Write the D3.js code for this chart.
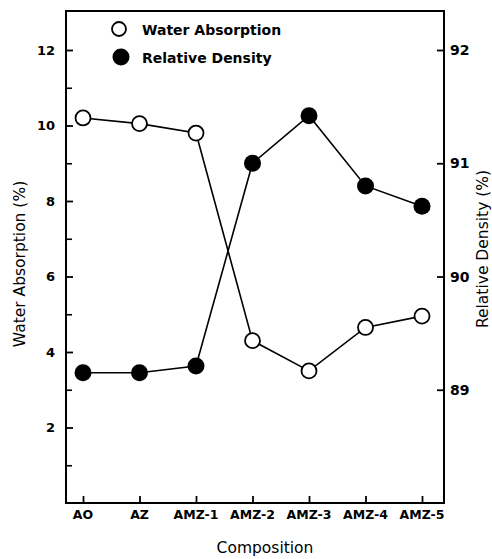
<!DOCTYPE html>
<html>
<head>
<meta charset="utf-8">
<script src="https://cdn.jsdelivr.net/npm/d3@7"></script>
<style>
  html, body { margin: 0; padding: 0; background: #fff; }
  svg { display: block; }
  text { font-family: "DejaVu Sans", sans-serif; fill: #000; }
</style>
</head>
<body>
<svg id="chart" width="492" height="559"></svg>
<script>
// Compositions along the x axis
const categories = ["AO", "AZ", "AMZ-1", "AMZ-2", "AMZ-3", "AMZ-4", "AMZ-5"];
// Water absorption (%), left axis
const waterAbsorption = [10.2, 10.05, 9.8, 4.3, 3.5, 4.65, 4.95];
// Relative density (%), right axis
const relativeDensity = [89.15, 89.15, 89.21, 91.0, 91.42, 90.8, 90.62];
// Axis tick values
const leftMajorTicks = [2, 4, 6, 8, 10, 12];
const leftMinorTicks = [1, 3, 5, 7, 9, 11];
const rightTicks = [89, 90, 91, 92];
const legendLabels = ["Water Absorption", "Relative Density"];

const svg = d3.select("#chart");

const frame = { left: 66, right: 444, top: 11, bottom: 503 };

const x = d3.scalePoint()
  .domain(categories)
  .range([83, 422]);

const yLeft = d3.scaleLinear()
  .domain([0, 12])
  .range([frame.bottom, 50]);

const yRight = d3.scaleLinear()
  .domain([88, 92])
  .range([frame.bottom, 50]);

// Frame: left, right, bottom axes and top border
const g = svg.append("g");
g.append("path")
  .attr("d", `M${frame.left},${frame.top}H${frame.right}V${frame.bottom}H${frame.left}Z`)
  .attr("fill", "none")
  .attr("stroke", "#000")
  .attr("stroke-width", 2);

// Left axis (ticks pointing inward)
const leftAxis = d3.axisRight(yLeft)
  .tickValues(leftMajorTicks)
  .tickSize(7)
  .tickFormat("");
const la = g.append("g")
  .attr("transform", `translate(${frame.left},0)`)
  .call(leftAxis);
la.select(".domain").remove();
la.selectAll("line").attr("stroke-width", 1.8);

const leftMinor = d3.axisRight(yLeft)
  .tickValues(leftMinorTicks)
  .tickSize(6)
  .tickFormat("");
const lm = g.append("g")
  .attr("transform", `translate(${frame.left},0)`)
  .call(leftMinor);
lm.select(".domain").remove();
lm.selectAll("line").attr("stroke-width", 1.6);

g.append("g").selectAll("text")
  .data(leftMajorTicks)
  .join("text")
  .attr("x", 55)
  .attr("y", d => yLeft(d))
  .attr("dy", "0.36em")
  .attr("text-anchor", "end")
  .attr("font-size", 13)
  .attr("font-weight", "bold")
  .text(d => d);

// Right axis (ticks pointing inward)
const rightAxis = d3.axisLeft(yRight)
  .tickValues(rightTicks)
  .tickSize(7)
  .tickFormat("");
const ra = g.append("g")
  .attr("transform", `translate(${frame.right},0)`)
  .call(rightAxis);
ra.select(".domain").remove();
ra.selectAll("line").attr("stroke-width", 1.8);

g.append("g").selectAll("text")
  .data(rightTicks)
  .join("text")
  .attr("x", 450)
  .attr("y", d => yRight(d))
  .attr("dy", "0.36em")
  .attr("text-anchor", "start")
  .attr("font-size", 14)
  .attr("font-weight", "bold")
  .text(d => d);

// Bottom axis (ticks pointing up)
const bottomAxis = d3.axisTop(x)
  .tickSize(7)
  .tickFormat("");
const ba = g.append("g")
  .attr("transform", `translate(0,${frame.bottom})`)
  .call(bottomAxis);
ba.select(".domain").remove();
ba.selectAll("line").attr("stroke-width", 1.8);

g.append("g").selectAll("text")
  .data(categories)
  .join("text")
  .attr("x", d => x(d))
  .attr("y", 519)
  .attr("text-anchor", "middle")
  .attr("font-size", 12.5)
  .attr("font-weight", "bold")
  .text(d => d);

// Axis titles
svg.append("text")
  .attr("transform", "translate(25,264) rotate(-90)")
  .attr("text-anchor", "middle")
  .attr("font-size", 15.5)
  .text("Water Absorption (%)");

svg.append("text")
  .attr("transform", "translate(488,249) rotate(-90)")
  .attr("text-anchor", "middle")
  .attr("font-size", 15.5)
  .text("Relative Density (%)");

svg.append("text")
  .attr("x", 265)
  .attr("y", 553)
  .attr("text-anchor", "middle")
  .attr("font-size", 15.5)
  .text("Composition");

// Series lines
const lineLeft = d3.line()
  .x((d, i) => x(categories[i]))
  .y(d => yLeft(d));
const lineRight = d3.line()
  .x((d, i) => x(categories[i]))
  .y(d => yRight(d));

svg.append("path")
  .datum(waterAbsorption)
  .attr("d", lineLeft)
  .attr("fill", "none")
  .attr("stroke", "#000")
  .attr("stroke-width", 1.6);

svg.append("path")
  .datum(relativeDensity)
  .attr("d", lineRight)
  .attr("fill", "none")
  .attr("stroke", "#000")
  .attr("stroke-width", 1.6);

// Markers
svg.append("g").selectAll("circle")
  .data(waterAbsorption)
  .join("circle")
  .attr("cx", (d, i) => x(categories[i]))
  .attr("cy", d => yLeft(d))
  .attr("r", 7.5)
  .attr("fill", "#fff")
  .attr("stroke", "#000")
  .attr("stroke-width", 1.8);

svg.append("g").selectAll("circle")
  .data(relativeDensity)
  .join("circle")
  .attr("cx", (d, i) => x(categories[i]))
  .attr("cy", d => yRight(d))
  .attr("r", 8.5)
  .attr("fill", "#000");

// Legend
const legend = svg.append("g");
legend.append("circle")
  .attr("cx", 119).attr("cy", 29).attr("r", 7)
  .attr("fill", "#fff").attr("stroke", "#000").attr("stroke-width", 1.8);
legend.append("circle")
  .attr("cx", 121).attr("cy", 57).attr("r", 8.5)
  .attr("fill", "#000");
legend.selectAll("text")
  .data(legendLabels)
  .join("text")
  .attr("x", 142)
  .attr("y", (d, i) => i === 0 ? 35 : 63)
  .attr("font-size", 14)
  .attr("font-weight", "bold")
  .text(d => d);
</script>
</body>
</html>
